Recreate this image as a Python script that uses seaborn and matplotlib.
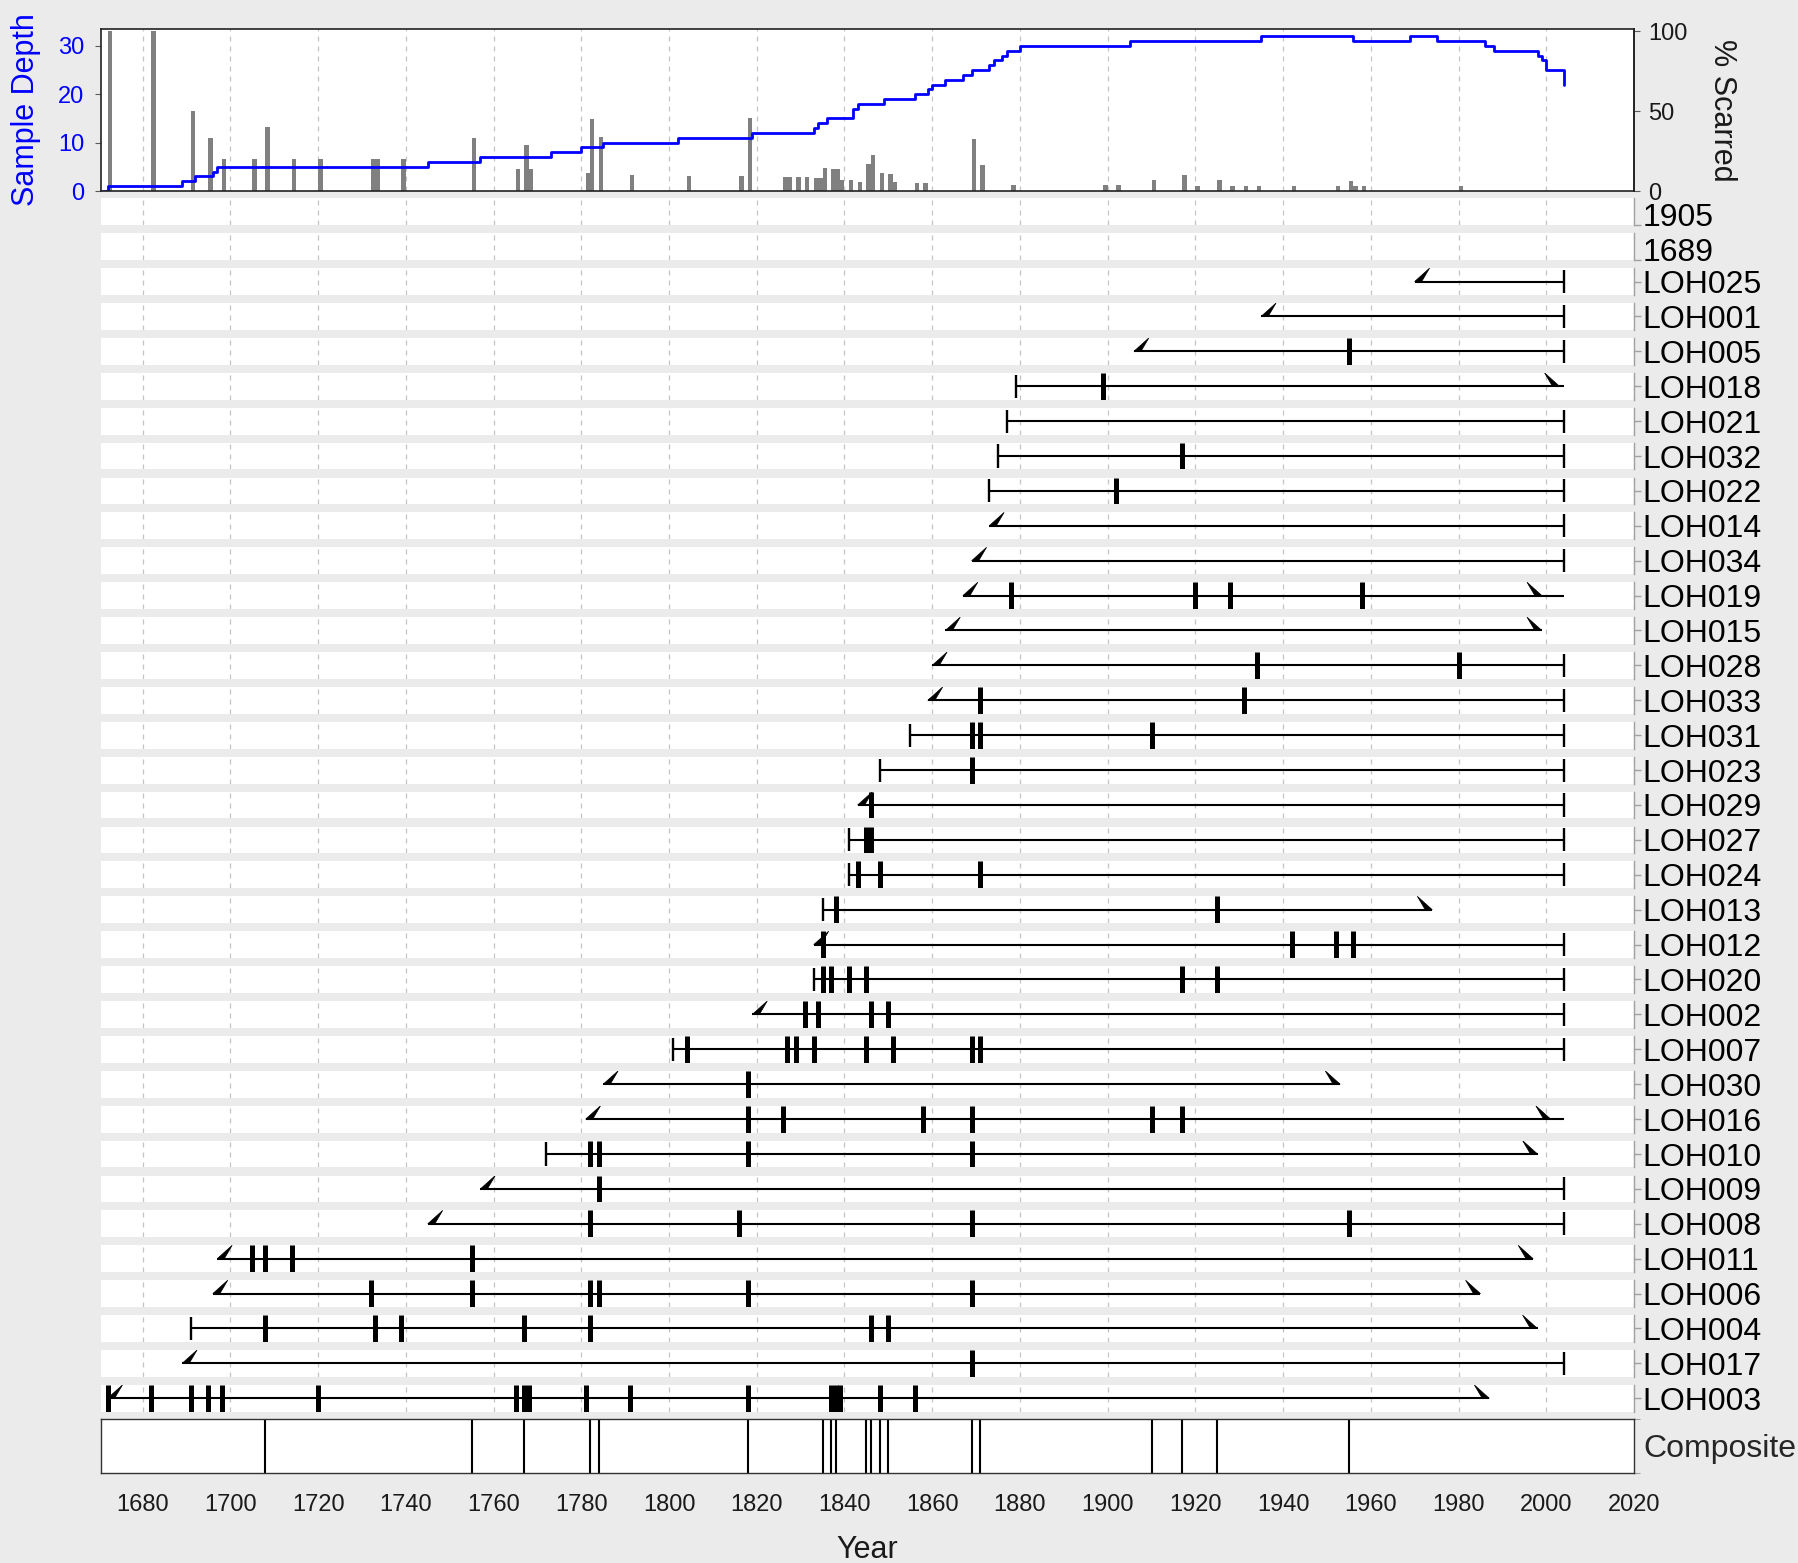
import numpy as np
import matplotlib
matplotlib.use('Agg')
import matplotlib.pyplot as plt
import seaborn as sns

# ── Data (rows listed top -> bottom) ─────────────────────────
series_ids = ['1905', '1689', 'LOH025', 'LOH001', 'LOH005', 'LOH018', 'LOH021',
              'LOH032', 'LOH022', 'LOH014', 'LOH034', 'LOH019', 'LOH015', 'LOH028',
              'LOH033', 'LOH031', 'LOH023', 'LOH029', 'LOH027', 'LOH024', 'LOH013',
              'LOH012', 'LOH020', 'LOH002', 'LOH007', 'LOH030', 'LOH016', 'LOH010',
              'LOH009', 'LOH008', 'LOH011', 'LOH006', 'LOH004', 'LOH017', 'LOH003']

# first year and its type: 'pith' (tick) or 'inner' (flag)
first_year = [None, None, 1970, 1935, 1906, 1879, 1877, 1875, 1873, 1873, 1869, 1867,
              1863, 1860, 1859, 1855, 1848, 1843, 1841, 1841, 1835, 1833, 1833, 1819,
              1801, 1785, 1781, 1772, 1757, 1745, 1697, 1696, 1691, 1689, 1672]
first_type = [None, None, 'inner', 'inner', 'inner', 'pith', 'pith', 'pith', 'pith',
              'inner', 'inner', 'inner', 'inner', 'inner', 'inner', 'pith', 'pith',
              'inner', 'pith', 'pith', 'pith', 'inner', 'pith', 'inner', 'pith',
              'inner', 'inner', 'pith', 'inner', 'inner', 'inner', 'inner', 'pith',
              'inner', 'inner']

# last year and its type: 'bark' (tick) or 'outer' (flag)
last_year = [None, None, 2004, 2004, 2004, 2003, 2004, 2004, 2004, 2004, 2004, 1999,
             1999, 2004, 2004, 2004, 2004, 2004, 2004, 2004, 1974, 2004, 2004, 2004,
             2004, 1953, 2001, 1998, 2004, 2004, 1997, 1985, 1998, 2004, 1987]
last_type = [None, None, 'bark', 'bark', 'bark', 'outer', 'bark', 'bark', 'bark',
             'bark', 'bark', 'outer', 'outer', 'bark', 'bark', 'bark', 'bark', 'bark',
             'bark', 'bark', 'outer', 'bark', 'bark', 'bark', 'bark', 'outer', 'outer',
             'outer', 'bark', 'bark', 'outer', 'outer', 'outer', 'bark', 'outer']
# where the drawn line stops (a few run on past the outer flag)
line_end = [None, None, 2004, 2004, 2004, 2004, 2004, 2004, 2004, 2004, 2004, 2004,
            1999, 2004, 2004, 2004, 2004, 2004, 2004, 2004, 1974, 2004, 2004, 2004,
            2004, 1953, 2004, 1998, 2004, 2004, 1997, 1985, 1998, 2004, 1987]

fire_scars = [[], [], [], [], [1955], [1899], [], [1917], [1902], [], [],
              [1878, 1920, 1928, 1958], [], [1934, 1980], [1871, 1931],
              [1869, 1871, 1910], [1869], [1846], [1845, 1846], [1843, 1848, 1871],
              [1838, 1925], [1835, 1942, 1952, 1956],
              [1835, 1837, 1841, 1845, 1917, 1925], [1831, 1834, 1846, 1850],
              [1804, 1827, 1829, 1833, 1845, 1851, 1869, 1871], [1818],
              [1818, 1826, 1858, 1869, 1910, 1917], [1782, 1784, 1818, 1869], [1784],
              [1782, 1816, 1869, 1955], [1705, 1708, 1714, 1755],
              [1732, 1755, 1782, 1784, 1818, 1869],
              [1708, 1733, 1739, 1767, 1782, 1846, 1850], [1869],
              [1672, 1682, 1691, 1695, 1698, 1720, 1765, 1767, 1768, 1781, 1791,
               1818, 1837, 1838, 1839, 1848, 1856]]

# sample depth (step line)
depth_years = [1671, 1672, 1689, 1692, 1696, 1697, 1745, 1757, 1773, 1780, 1785, 1802,
               1819, 1833, 1834, 1836, 1842, 1843, 1849, 1856, 1859, 1860, 1863, 1867,
               1869, 1873, 1874, 1876, 1877, 1880, 1905, 1935, 1956, 1969, 1975, 1986,
               1988, 1998, 1999, 2000, 2004]
depth_values = [0, 1, 2, 3, 4, 5, 6, 7, 8, 9, 10, 11, 12, 13, 14, 15, 17, 18, 19, 20,
                21, 22, 23, 24, 25, 26, 27, 28, 29, 30, 31, 32, 31, 32, 31, 30, 29, 28,
                27, 25, 22]

# percent of recording trees scarred
pct_years = [1672, 1682, 1691, 1695, 1698, 1705, 1708, 1714, 1720, 1732, 1733, 1739,
             1755, 1765, 1767, 1768, 1781, 1782, 1784, 1791, 1804, 1816, 1818, 1826,
             1827, 1829, 1831, 1833, 1834, 1835, 1837, 1838, 1839, 1841, 1843, 1845,
             1846, 1848, 1850, 1851, 1856, 1858, 1869, 1871, 1878, 1899, 1902, 1910,
             1917, 1920, 1925, 1928, 1931, 1934, 1942, 1952, 1955, 1956, 1958, 1980]
pct_values = [100, 100, 50, 33, 20, 20, 40, 20, 20, 20, 20, 20, 33, 14, 29, 14, 11, 45,
              34, 10, 9.5, 9.5, 46, 8.8, 8.8, 8.8, 8.8, 8.2, 8, 14.5, 13.9, 13.9, 7, 7,
              5.7, 17, 22.7, 11.4, 10.7, 5.7, 5, 5, 32.8, 16.4, 3.8, 3.8, 3.8, 7, 10,
              3.2, 7, 3.2, 3.2, 3.2, 3.2, 3.2, 6.3, 3.2, 3.2, 3.2]

composite_years = [1708, 1755, 1767, 1782, 1784, 1818, 1835, 1837, 1838, 1845, 1846,
                   1848, 1850, 1869, 1871, 1910, 1917, 1925, 1955]

year_ticks = list(range(1680, 2021, 20))

# ── Style ────────────────────────────────────────────────────
sns.set_theme(style='white')
plt.rcParams['font.family'] = ['Liberation Sans', 'DejaVu Sans']
BG = '#EBEBEB'
GRID = dict(color='#C4C4C4', linestyle=(0, (4, 4)), linewidth=0.9)
TICKC = '#5A5A5A'
XLIM = (1670.5, 2020)

FW, FH = 1798, 1563
fig = plt.figure(figsize=(FW / 100, FH / 100), dpi=100, facecolor=BG)
L = 101 / FW
PW = (1634 - 101) / FW


def frac_box(top_px, bottom_px):
    return [L, 1 - bottom_px / FH, PW, (bottom_px - top_px) / FH]


# ── Top panel: sample depth + % scarred ─────────────────────
ax_top = fig.add_axes(frac_box(29, 191))
ax_top.set_facecolor('white')
ax_top.bar(pct_years, np.array(pct_values) * 33 / 100, width=1, align='edge',
           color='#808080', linewidth=0)
sns.lineplot(x=depth_years, y=depth_values, drawstyle='steps-post', color='#0000FF',
             linewidth=2.0, estimator=None, ax=ax_top)
ax_top.set_xlim(*XLIM)
ax_top.set_ylim(0, 33.5)
ax_top.set_xticks(year_ticks)
ax_top.tick_params(axis='x', labelbottom=False, length=4, color=TICKC, width=0.8)
ax_top.grid(axis='x', **GRID)
ax_top.set_yticks([0, 10, 20, 30])
ax_top.tick_params(axis='y', left=True, length=4, color=TICKC, width=0.8,
                   labelsize=17, labelcolor='#0000FF', pad=8)
ax_top.set_ylabel('Sample Depth', color='#0000FF', fontsize=22, labelpad=12)
for s in ax_top.spines.values():
    s.set_color('#222222')
    s.set_linewidth(1.2)
ax_top.set_xlabel('')

sec = ax_top.secondary_yaxis('right', functions=(lambda d: d * 100 / 33,
                                                 lambda p: p * 33 / 100))
sec.set_yticks([0, 50, 100])
sec.tick_params(length=4, color=TICKC, width=0.8, labelsize=17, labelcolor='#1A1A1A',
                pad=6)
sec.set_ylabel('% Scarred', fontsize=22, rotation=270, labelpad=36, color='#1A1A1A')
sec.spines['right'].set_color('#222222')

# ── Series rows ──────────────────────────────────────────────
ROW_TOP0 = 198.3
ROW_STEP = 34.9
ROW_H = 26.8
LINE_Y = 0.5
FLAG_W = 3.4

for i, name in enumerate(series_ids):
    top = ROW_TOP0 + i * ROW_STEP
    ax = fig.add_axes(frac_box(top, top + ROW_H))
    ax.set_facecolor('white')
    ax.set_xlim(*XLIM)
    ax.set_ylim(0, 1)
    ax.set_xticks(year_ticks)
    ax.tick_params(axis='x', length=0, labelbottom=False)
    ax.grid(axis='x', **GRID)
    for s in ['top', 'bottom', 'left']:
        ax.spines[s].set_visible(False)
    ax.spines['right'].set_color('#A0A0A0')
    ax.spines['right'].set_linewidth(1.0)
    ax.yaxis.tick_right()
    ax.tick_params(axis='y', which='both', color='#A0A0A0', width=1.0, labelsize=23,
                   labelcolor='black')

    start = first_year[i]
    if start is None:
        # empty series: tick sits at the bottom, label just below centre
        ax.set_yticks([0.0], [''])
        ax.set_yticks([0.38], [name], minor=True)
        ax.tick_params(axis='y', which='major', length=5)
        ax.tick_params(axis='y', which='minor', length=0, pad=6)
        continue
    ax.set_yticks([LINE_Y], [name])
    ax.tick_params(axis='y', length=5, pad=1)

    ax.hlines(LINE_Y, start, line_end[i], color='black', linewidth=1.5)
    # first year marker
    if first_type[i] == 'pith':
        ax.vlines(start, 0.07, 0.93, color='black', linewidth=1.7)
    else:
        ax.fill([start, start + FLAG_W, start + 1.6], [LINE_Y, 1.0, LINE_Y],
                color='black', linewidth=0.5)
    # last year marker
    end = last_year[i]
    if last_type[i] == 'bark':
        ax.vlines(end, 0.07, 0.93, color='black', linewidth=1.7)
    else:
        ax.fill([end, end - FLAG_W, end - 1.6], [LINE_Y, 1.0, LINE_Y],
                color='black', linewidth=0.5)
    # fire scars
    if fire_scars[i]:
        ax.vlines(fire_scars[i], 0, 1, color='black', linewidth=3.6)

# ── Composite ────────────────────────────────────────────────
ax_c = fig.add_axes(frac_box(1419, 1473))
ax_c.set_facecolor('white')
ax_c.vlines(composite_years, 0, 1, color='black', linewidth=1.5)
ax_c.set_xlim(*XLIM)
ax_c.set_ylim(0, 1)
ax_c.set_xticks(year_ticks)
ax_c.tick_params(axis='x', length=5, color=TICKC, width=0.8, labelsize=17,
                 labelcolor='#1A1A1A', pad=10)
ax_c.yaxis.tick_right()
ax_c.set_yticks([0, 1], ['', ''])
ax_c.tick_params(axis='y', length=4, color='#A0A0A0', width=0.8)
ax_c.set_yticks([0.5], ['Composite'], minor=True)
ax_c.tick_params(axis='y', which='minor', length=0, labelsize=23, pad=7)
for s in ax_c.spines.values():
    s.set_color('#333333')
    s.set_linewidth(1.0)
ax_c.set_xlabel('Year', fontsize=22, labelpad=14, color='#1A1A1A')

fig.savefig('out.png', dpi=100, facecolor=BG)
